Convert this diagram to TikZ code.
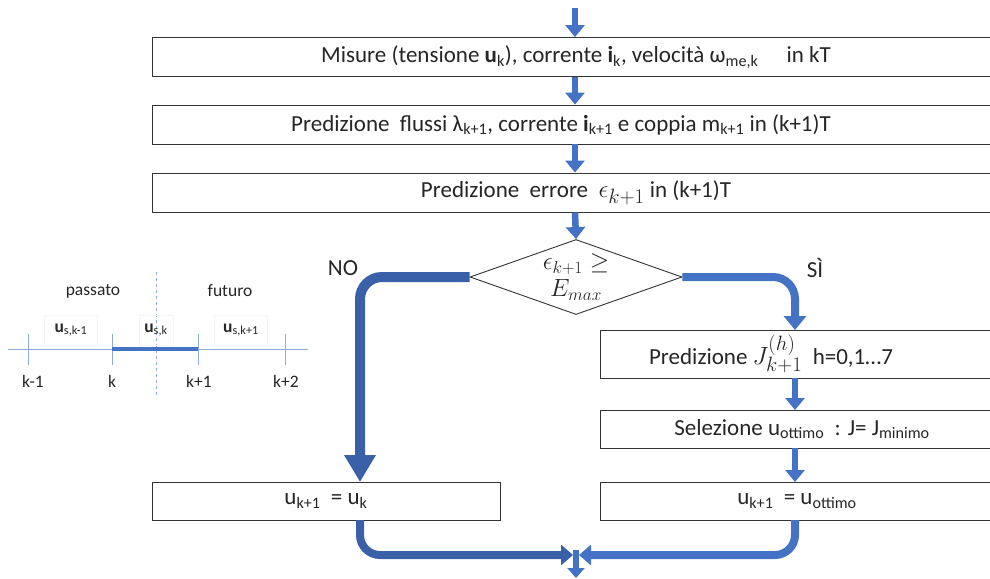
\documentclass[tikz,border=0pt]{standalone}
\usepackage{fontspec}
\setmainfont{Carlito}
\usetikzlibrary{arrows.meta,shapes.geometric}
\definecolor{ablue}{HTML}{4472C4}
\definecolor{dblue}{HTML}{3A60A8}
\definecolor{lblue}{HTML}{8FAADC}
\definecolor{txt}{HTML}{262626}
\newcommand\lsub[1]{\textsubscript{#1}}
\newcommand\bm[1]{{\fontsize{28}{30}\selectfont$#1$}}
\tikzset{
  box/.style={draw=black!80, line width=0.9pt, fill=white, inner sep=0pt, text=txt, font=\fontsize{23}{26}\selectfont},
  flow/.style={ablue, line width=6.5pt, -{Triangle[width=19pt,length=12pt]}},
  bigflow/.style={dblue, line width=10pt, rounded corners=22pt, -{Triangle[width=30pt,length=27pt]}},
  sideflow/.style={ablue, line width=8pt, rounded corners=22pt, -{Triangle[width=22pt,length=14pt]}},
  tl/.style={text=txt, font=\fontsize{17.5}{20}\selectfont},
  tick/.style={lblue, line width=0.8pt}
}
\begin{document}
\begin{tikzpicture}[x=1pt,y=-1pt]
\useasboundingbox (0,0) rectangle (990,578);
\clip (0,0) rectangle (990,578);
% main boxes
\node[box, minimum width=848pt, minimum height=39pt] (b1) at (576,57)
  {Misure (tensione \textbf{u}\lsub{k}), corrente \textbf{i}\lsub{k}, velocità ω\lsub{me,k}\quad\ in kT};
\node[box, minimum width=848pt, minimum height=39pt] (b2) at (576,124.5)
  {Predizione\ \ flussi λ\lsub{k+1}, corrente \textbf{i}\lsub{k+1} e coppia m\lsub{k+1} in (k+1)T\hspace*{30pt}};
\node[box, minimum width=848pt, minimum height=39pt] (b3) at (576,192.5)
  {Predizione\ \ errore\ \ \bm{\epsilon_{k+1}} in (k+1)T};
\node[draw=black!80, line width=0.9pt, diamond, aspect=2.83, minimum width=212pt, minimum height=75pt, inner sep=0pt, align=center, text=txt, font=\fontsize{27}{30}\selectfont] (d) at (576,277)
  {$\epsilon_{k+1}\geq$\\[-3pt] $E_{max}$};
\node[box, minimum width=394pt, minimum height=48pt] (bj) at (797,354)
  {Predizione \bm{J_{k+1}^{(h)}}\ \ h=0,1…7\hspace*{52pt}};
\node[box, minimum width=394pt, minimum height=38pt] (bs) at (797,429)
  {\hspace*{10pt}Selezione u\lsub{ottimo}\ \ : J= J\lsub{minimo}};
\node[box, minimum width=394pt, minimum height=38pt] (bo) at (797,501)
  {u\lsub{k+1}\ \ = u\lsub{ottimo}};
\node[box, minimum width=348pt, minimum height=38pt] (bk) at (326,501)
  {u\lsub{k+1}\ \ = u\lsub{k}};
% labels
\node[text=txt, font=\fontsize{23}{26}\selectfont] (no) at (343,268) {NO};
\node[text=txt, font=\fontsize{23}{26}\selectfont] (si) at (815,268) {SÌ};
% connectors
\coordinate (top) at (575,8);
\coordinate (m) at (576,550);
\coordinate (bot) at (576,578);
\draw[flow] (top) -- (top |- b1.north);
\draw[flow] (b1.south -| top) -- (b2.north -| top);
\draw[flow] (b2.south -| top) -- (b3.north -| top);
\draw[flow] (b3.south -| top) -- (d.north);
\draw[bigflow] (d.west) -- (360,277) -- (360,482);
\draw[sideflow] (d.east) -- (795,277) -- (795,330);
\draw[flow] (795,378) -- (795,410);
\draw[flow] (795,448) -- (795,482);
\draw[dblue, line width=8pt, rounded corners=20pt, -{Triangle[width=20pt,length=12pt]}] (360,520) -- (360,555) -- (573,555);
\draw[ablue, line width=8pt, rounded corners=20pt, -{Triangle[width=20pt,length=12pt]}] (795,520) -- (795,555) -- (579,555);
\draw[ablue, line width=6pt, -{Triangle[width=17pt,length=10pt]}] (m) -- (bot);
% timeline
\draw[tick] (8,349) -- (308,349);
\foreach \x in {28,112,198,285} {\draw[tick] (\x,334) -- (\x,365);}
\draw[lblue, line width=0.8pt, dashed] (156,272) -- (156,398);
\draw[ablue, line width=4pt] (112,349) -- (198,349);
\node[tl] (pas) at (93,291) {passato};
\node[tl] (fut) at (230,291) {futuro};
\node[tl, draw=black!4, minimum width=53pt, minimum height=30pt] (u1) at (71,330) {\textbf{u}\lsub{s,k-1}};
\node[tl, draw=black!4, minimum width=34pt, minimum height=30pt] (u2) at (156,330) {\textbf{u}\lsub{s,k}};
\node[tl, draw=black!4, minimum width=53pt, minimum height=30pt] (u3) at (241,330) {\textbf{u}\lsub{s,k+1}};
\node[tl] (k1) at (33,381) {k-1};
\node[tl] (k2) at (112,381) {k};
\node[tl] (k3) at (199,381) {k+1};
\node[tl] (k4) at (286,381) {k+2};
\end{tikzpicture}
\end{document}
